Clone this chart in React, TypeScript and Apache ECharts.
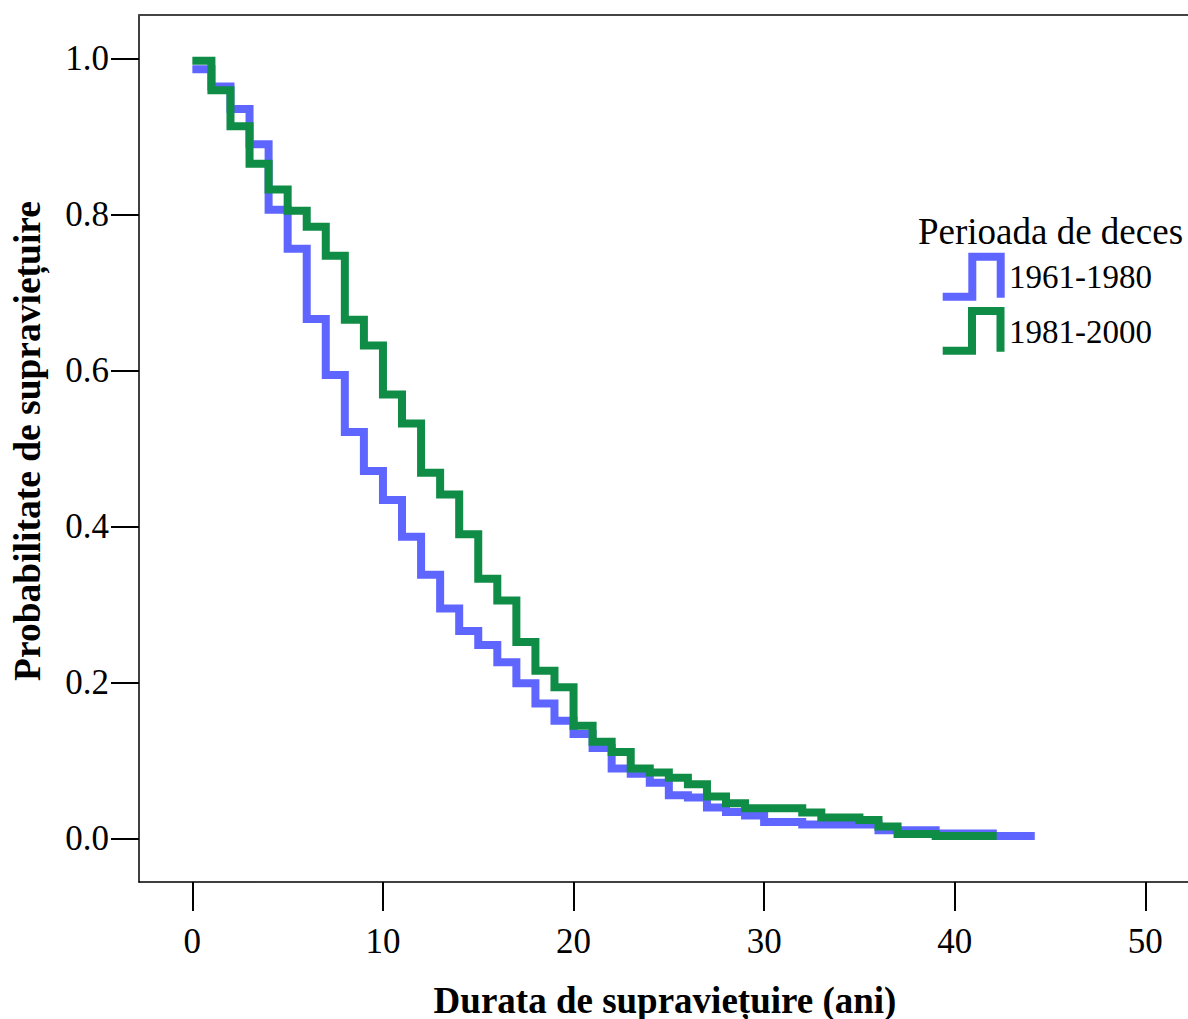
import React, { useEffect, useRef } from "react";
import * as echarts from "echarts";

const xTickValues = [0, 10, 20, 30, 40, 50];
const yTickValues = [0, 0.2, 0.4, 0.6, 0.8, 1.0];

const seriesNames = ["1961-1980", "1981-2000"];
const legendTitle = "Perioada de deces";
const xTitle = "Durata de supraviețuire (ani)";
const yTitle = "Probabilitate de supraviețuire";

const blueTimes = [0, 1, 2, 3, 4, 5, 6, 7, 8, 9, 10, 11, 12, 13, 14, 15, 16, 17, 18, 19, 20, 21, 22, 23, 24, 25, 26, 27, 28, 29, 30, 32, 36, 39, 42, 44.2];
const blueValues = [0.986, 0.964, 0.935, 0.89, 0.806, 0.756, 0.666, 0.594, 0.521, 0.471, 0.434, 0.387, 0.338, 0.295, 0.266, 0.248, 0.226, 0.199, 0.173, 0.151, 0.134, 0.116, 0.09, 0.083, 0.0715, 0.0556, 0.0526, 0.04, 0.034, 0.0295, 0.0214, 0.018, 0.0107, 0.0064, 0.0035, 0.0035];

const greenTimes = [0, 1, 2, 3, 4, 5, 6, 7, 8, 9, 10, 11, 12, 13, 14, 15, 16, 17, 18, 19, 20, 21, 22, 23, 24, 25, 26, 27, 28, 29, 32, 33, 35, 36, 37, 39, 42.2];
const greenValues = [0.997, 0.959, 0.913, 0.865, 0.832, 0.8045, 0.784, 0.747, 0.665, 0.632, 0.569, 0.532, 0.469, 0.441, 0.39, 0.333, 0.305, 0.252, 0.215, 0.194, 0.1447, 0.124, 0.111, 0.09, 0.0847, 0.078, 0.0697, 0.0539, 0.0453, 0.0389, 0.0334, 0.027, 0.024, 0.0154, 0.006, 0.0035, 0.0035];

const BLUE = "#5f66ff";
const GREEN = "#0f8c45";
const FONT = "Liberation Serif";

export default function App() {
  const ref = useRef<HTMLDivElement>(null);
  useEffect(() => {
    if (!ref.current) return;
    const chart = echarts.init(ref.current, null, { renderer: "svg" });
    const pair = (ts: number[], vs: number[]) => ts.map((t, i) => [t, vs[i]]);
    const axisCommon = {
      type: "value" as const,
      splitLine: { show: false },
    };
    chart.setOption({
      animation: false,
      backgroundColor: "#ffffff",
      grid: { left: 139, top: 15, right: 0, bottom: 137, show: false },
      xAxis: [
        {
          ...axisCommon,
          min: -2.8,
          max: 52.24,
          position: "bottom",
          axisLine: { show: true, onZero: false, lineStyle: { color: "#000", width: 1.5 } },
          axisTick: { show: true, length: 29, customValues: xTickValues, lineStyle: { color: "#000", width: 2 } },
          axisLabel: {
            show: true,
            customValues: xTickValues,
            margin: 42,
            color: "#000",
            fontFamily: FONT,
            fontSize: 35,
            formatter: (v: number) => String(v),
          },
        },
        {
          ...axisCommon,
          min: -2.8,
          max: 52.24,
          position: "top",
          axisLine: { show: true, onZero: false, lineStyle: { color: "#444", width: 2 } },
          axisTick: { show: false },
          axisLabel: { show: false },
        },
      ],
      yAxis: {
        ...axisCommon,
        min: -0.0556,
        max: 1.0555,
        axisLine: { show: true, onZero: false, lineStyle: { color: "#000", width: 1.5 } },
        axisTick: { show: true, length: 28, customValues: yTickValues, lineStyle: { color: "#000", width: 2 } },
        axisLabel: {
          show: true,
          customValues: yTickValues,
          margin: 30,
          color: "#000",
          fontFamily: FONT,
          fontSize: 35,
          formatter: (v: number) => v.toFixed(1),
        },
      },
      series: [
        {
          name: seriesNames[0],
          type: "line",
          step: "end",
          showSymbol: false,
          symbol: "none",
          data: pair(blueTimes, blueValues),
          lineStyle: { color: BLUE, width: 8, join: "miter", cap: "butt" },
          z: 2,
        },
        {
          name: seriesNames[1],
          type: "line",
          step: "end",
          showSymbol: false,
          symbol: "none",
          data: pair(greenTimes, greenValues),
          lineStyle: { color: GREEN, width: 8, join: "miter", cap: "butt" },
          z: 3,
        },
      ],
      graphic: [
        {
          type: "text",
          x: 665,
          y: 1000,
          style: {
            text: xTitle,
            fontFamily: FONT,
            fontWeight: "bold",
            fontSize: 37,
            fill: "#000",
            align: "center",
            verticalAlign: "middle",
          },
        },
        {
          type: "text",
          x: 27,
          y: 441,
          rotation: Math.PI / 2,
          style: {
            text: yTitle,
            fontFamily: FONT,
            fontWeight: "bold",
            fontSize: 37.5,
            fill: "#000",
            align: "center",
            verticalAlign: "middle",
          },
        },
        {
          type: "text",
          x: 918,
          y: 231,
          style: {
            text: legendTitle,
            fontFamily: FONT,
            fontSize: 37,
            fill: "#000",
            align: "left",
            verticalAlign: "middle",
          },
        },
        {
          type: "polyline",
          shape: { points: [[942.7, 296.7], [972.3, 296.7], [972.3, 256.7], [1000.7, 256.7], [1000.7, 297.7]] },
          style: { stroke: BLUE, lineWidth: 8, fill: "none", lineJoin: "miter" },
        },
        {
          type: "text",
          x: 1009,
          y: 277,
          style: {
            text: seriesNames[0],
            fontFamily: FONT,
            fontSize: 33,
            fill: "#000",
            align: "left",
            verticalAlign: "middle",
          },
        },
        {
          type: "polyline",
          shape: { points: [[942.7, 350.7], [972, 350.7], [972, 311], [1000.5, 311], [1000.5, 351.7]] },
          style: { stroke: GREEN, lineWidth: 8, fill: "none", lineJoin: "miter" },
        },
        {
          type: "text",
          x: 1009,
          y: 332,
          style: {
            text: seriesNames[1],
            fontFamily: FONT,
            fontSize: 33,
            fill: "#000",
            align: "left",
            verticalAlign: "middle",
          },
        },
      ],
    });
    return () => chart.dispose();
  }, []);
  return (
    <div
      ref={ref}
      style={{ position: "absolute", left: 0, top: 0, width: 1188, height: 1019 }}
    />
  );
}
